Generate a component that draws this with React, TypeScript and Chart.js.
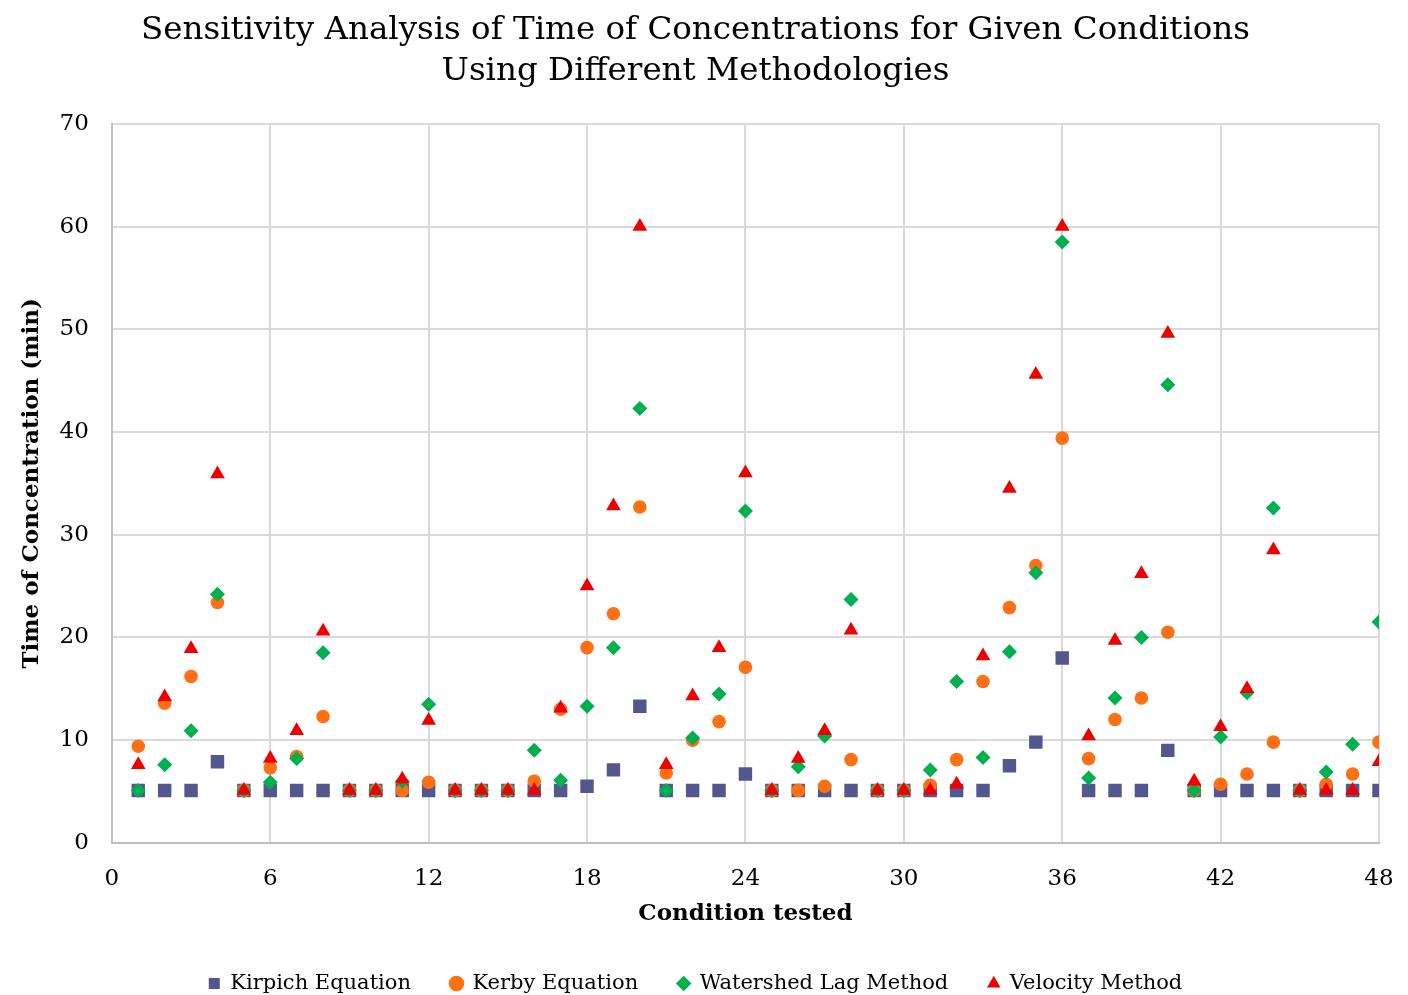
import React, { useEffect, useRef } from "react";
import { Chart, registerables } from "chart.js";

Chart.register(...registerables);

const conditions = [
  1, 2, 3, 4, 5, 6, 7, 8, 9, 10, 11, 12, 13, 14, 15, 16, 17, 18, 19, 20, 21, 22, 23, 24,
  25, 26, 27, 28, 29, 30, 31, 32, 33, 34, 35, 36, 37, 38, 39, 40, 41, 42, 43, 44, 45, 46, 47, 48,
];

const kirpich = [
  5.1, 5.1, 5.1, 7.9, 5.1, 5.1, 5.1, 5.1, 5.1, 5.1, 5.1, 5.1, 5.1, 5.1, 5.1, 5.1, 5.1, 5.5, 7.1, 13.3, 5.1, 5.1, 5.1, 6.7,
  5.1, 5.1, 5.1, 5.1, 5.1, 5.1, 5.1, 5.1, 5.1, 7.5, 9.8, 18.0, 5.1, 5.1, 5.1, 9.0, 5.1, 5.1, 5.1, 5.1, 5.1, 5.1, 5.1, 5.1,
];

const kerby = [
  9.4, 13.6, 16.2, 23.4, 5.1, 7.3, 8.4, 12.3, 5.1, 5.1, 5.1, 5.9, 5.1, 5.1, 5.1, 6.0, 13.0, 19.0, 22.3, 32.7, 6.8, 10.0, 11.8, 17.1,
  5.1, 5.1, 5.5, 8.1, 5.1, 5.1, 5.6, 8.1, 15.7, 22.9, 27.0, 39.4, 8.2, 12.0, 14.1, 20.5, 5.1, 5.7, 6.7, 9.8, 5.1, 5.7, 6.7, 9.8,
];

const watershedLag = [
  5.1, 7.6, 10.9, 24.2, 5.1, 5.9, 8.2, 18.5, 5.1, 5.1, 6.0, 13.5, 5.1, 5.1, 5.1, 9.0, 6.1, 13.3, 19.0, 42.3, 5.1, 10.2, 14.5, 32.3,
  5.1, 7.4, 10.4, 23.7, 5.1, 5.1, 7.1, 15.7, 8.3, 18.6, 26.3, 58.5, 6.3, 14.1, 20.0, 44.6, 5.1, 10.3, 14.6, 32.6, 5.1, 6.9, 9.6, 21.5,
];

const velocity = [
  7.6, 14.2, 18.9, 35.9, 5.1, 8.2, 10.9, 20.6, 5.1, 5.1, 6.2, 11.9, 5.1, 5.1, 5.1, 5.1, 13.1, 25.0, 32.8, 60.0, 7.6, 14.3, 19.0, 36.0,
  5.1, 8.2, 10.9, 20.7, 5.1, 5.1, 5.1, 5.7, 18.2, 34.5, 45.6, 60.0, 10.4, 19.7, 26.2, 49.6, 6.0, 11.3, 15.0, 28.5, 5.1, 5.1, 5.1, 7.9,
];

const xTicks = [0, 6, 12, 18, 24, 30, 36, 42, 48];
const yTicks = [0, 10, 20, 30, 40, 50, 60, 70];

const FONT = "'DejaVu Serif', 'Liberation Serif', serif";

function toPoints(values: number[]) {
  return values.map((v, i) => ({ x: conditions[i], y: v }));
}

export default function App() {
  const canvasRef = useRef<HTMLCanvasElement | null>(null);

  useEffect(() => {
    document.body.style.margin = "0";
    const canvas = canvasRef.current;
    if (!canvas) return;
    const chart = new Chart(canvas, {
      type: "scatter",
      data: {
        datasets: [
          {
            label: "Kirpich Equation",
            data: toPoints(kirpich),
            pointStyle: "rect",
            pointRadius: 9.5,
            backgroundColor: "#54578E",
            borderColor: "#54578E",
            borderWidth: 0,
            order: 4,
          },
          {
            label: "Kerby Equation",
            data: toPoints(kerby),
            pointStyle: "circle",
            pointRadius: 6.8,
            backgroundColor: "#FF6F13",
            borderColor: "#FF6F13",
            borderWidth: 0,
            order: 3,
          },
          {
            label: "Watershed Lag Method",
            data: toPoints(watershedLag),
            pointStyle: "rectRot",
            pointRadius: 7.5,
            backgroundColor: "#00B050",
            borderColor: "#00B050",
            borderWidth: 0,
            order: 2,
          },
          {
            label: "Velocity Method",
            data: toPoints(velocity),
            pointStyle: "triangle",
            pointRadius: 8.5,
            backgroundColor: "#EE0000",
            borderColor: "#EE0000",
            borderWidth: 0,
            order: 1,
          },
        ],
      },
      options: {
        animation: false,
        responsive: false,
        maintainAspectRatio: false,
        layout: { padding: { left: 12, right: 29, top: 0, bottom: -9 } },
        plugins: {
          title: {
            display: true,
            text: [
              "Sensitivity Analysis of Time of Concentrations for Given Conditions",
              "Using Different Methodologies",
            ],
            color: "#000",
            font: { family: FONT, size: 32.5, weight: "normal", lineHeight: 1.26 },
            padding: { top: 10, bottom: 32 },
          },
          legend: {
            position: "bottom",
            labels: {
              usePointStyle: true,
              boxWidth: 11,
              boxHeight: 11,
              padding: 40,
              color: "#000",
              font: { family: FONT, size: 21 },
              sort: (a: any, b: any) => a.datasetIndex - b.datasetIndex,
            },
          },
          tooltip: { enabled: false },
        },
        scales: {
          x: {
            type: "linear",
            min: 0,
            max: 48,
            afterBuildTicks: (axis: any) => {
              axis.ticks = xTicks.map((v) => ({ value: v }));
            },
            afterFit: (axis: any) => {
              axis.paddingRight = 0;
              axis.paddingLeft = 0;
            },
            ticks: {
              color: "#000",
              font: { family: FONT, size: 23 },
              padding: 22,
            },
            grid: { color: "#D9D9D9", lineWidth: 2, drawTicks: false },
            border: { color: "#BFBFBF", width: 2 },
            title: {
              display: true,
              text: "Condition tested",
              color: "#000",
              font: { family: FONT, size: 23, weight: "bold" },
              padding: { top: -14, bottom: 5 },
            },
          },
          y: {
            type: "linear",
            min: 0,
            max: 70,
            afterBuildTicks: (axis: any) => {
              axis.ticks = yTicks.map((v) => ({ value: v }));
            },
            ticks: {
              color: "#000",
              font: { family: FONT, size: 23 },
              padding: 23,
            },
            grid: { color: "#D9D9D9", lineWidth: 2, drawTicks: false },
            border: { color: "#BFBFBF", width: 2 },
            title: {
              display: true,
              text: "Time of Concentration (min)",
              color: "#000",
              font: { family: FONT, size: 23, weight: "bold" },
              padding: { top: 6, bottom: -9 },
            },
          },
        },
      },
    });
    return () => chart.destroy();
  }, []);

  return (
    <div style={{ width: 1408, height: 995, background: "#fff" }}>
      <canvas ref={canvasRef} width={1408} height={995} style={{ display: "block" }} />
    </div>
  );
}
